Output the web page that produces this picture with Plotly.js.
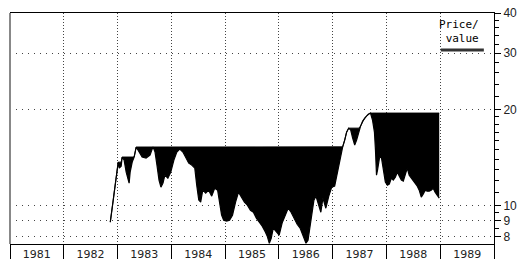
<!DOCTYPE html>
<html>
<head>
<meta charset="utf-8">
<script src="https://cdn.plot.ly/plotly-3.0.1.min.js"></script>
<style>html,body{margin:0;padding:0;background:#fff;}#chart{width:518px;height:269px;}</style>
</head>
<body>
<div id="chart"></div>
<script>
// decimal-year time stamps
const times = [
1982.868,1982.886,1982.905,1982.923,1982.942,1982.960,1982.979,1982.997,1983.016,1983.034,
1983.071,1983.090,1983.126,1983.163,1983.200,1983.219,1983.237,1983.274,1983.311,1983.348,
1983.403,1983.459,1983.533,1983.607,1983.662,1983.699,1983.736,1983.773,1983.810,1983.847,
1983.884,1983.939,1983.994,1984.050,1984.105,1984.161,1984.216,1984.271,1984.327,1984.382,
1984.438,1984.475,1984.512,1984.548,1984.585,1984.641,1984.696,1984.752,1984.807,1984.862,
1984.899,1984.936,1984.973,1985.029,1985.084,1985.139,1985.195,1985.250,1985.306,1985.361,
1985.416,1985.472,1985.527,1985.583,1985.638,1985.693,1985.749,1985.786,1985.823,1985.860,
1985.897,1985.952,1986.007,1986.063,1986.118,1986.174,1986.229,1986.284,1986.340,1986.395,
1986.451,1986.506,1986.543,1986.580,1986.617,1986.654,1986.691,1986.746,1986.783,1986.820,
1986.875,1986.931,1986.986,1987.041,1987.097,1987.152,1987.189,1987.226,1987.263,1987.300,
1987.337,1987.374,1987.411,1987.448,1987.485,1987.522,1987.559,1987.595,1987.632,1987.669,
1987.706,1987.743,1987.780,1987.799,1987.817,1987.836,1987.873,1987.909,1987.946,1987.983,
1988.020,1988.057,1988.094,1988.131,1988.168,1988.205,1988.242,1988.279,1988.316,1988.353,
1988.390,1988.426,1988.463,1988.500,1988.537,1988.574,1988.611,1988.648,1988.685,1988.722,
1988.759,1988.796,1988.833,1988.870,1988.907,1988.944,1988.981
];
// price / value series
const price = [
8.89,9.55,9.90,10.42,11.03,11.60,12.20,13.11,13.69,13.11,
13.30,14.20,13.89,12.74,12.03,11.77,12.74,13.69,14.20,15.26,
14.72,14.20,14.10,14.40,15.28,14.72,13.40,12.03,11.44,11.77,
12.47,12.20,12.74,13.89,14.72,15.04,14.72,14.10,13.59,13.40,
13.11,11.60,10.42,10.27,11.19,10.96,11.19,10.72,11.35,11.19,
10.27,9.35,9.02,8.96,9.02,9.35,10.27,11.03,10.64,10.27,
10.05,9.69,9.55,9.15,8.89,8.64,8.28,8.04,7.64,7.92,
8.52,8.28,8.10,8.83,9.35,9.83,9.55,9.15,8.76,8.52,
8.10,7.64,7.81,8.52,9.35,10.42,10.72,10.05,9.55,10.57,
9.83,10.72,11.44,11.52,12.93,14.10,15.26,16.04,16.99,17.48,
17.24,16.27,15.47,16.04,16.99,17.74,18.39,18.79,19.06,19.34,
19.48,18.52,16.99,14.93,12.47,12.93,14.10,14.20,13.11,11.86,
11.60,11.69,12.20,12.03,12.29,12.74,12.38,12.03,11.94,12.47,
13.11,12.47,12.20,12.03,11.77,11.52,11.19,10.64,10.88,11.19,
11.11,11.11,11.19,11.35,11.03,10.80,10.57
];
const yTickVals = [8, 9, 10, 20, 30, 40];
const yTickText = ['8', '9', '10', '20', '30', '40'];
const yMinorVals = [8.5, 9.5, 11, 12, 13, 14, 15, 16, 17, 18, 19, 22, 24, 26, 28, 32, 34, 36, 38];
const legendText = 'Price/<br>value';

function toDate(t) {
  const y = Math.floor(t);
  const s = Date.UTC(y, 0, 1), e = Date.UTC(y + 1, 0, 1);
  return new Date(s + (t - y) * (e - s)).toISOString().slice(0, 10);
}
const xDates = times.map(toDate);
// running peak (previous high) derived from the price series
const peak = [];
price.forEach((v, i) => peak.push(i === 0 ? v : Math.max(v, peak[i - 1])));

const traces = [
  {x: xDates, y: price, type: 'scatter', mode: 'lines',
   line: {color: '#000', width: 1.2}, showlegend: false, hoverinfo: 'skip'},
  {x: xDates, y: peak, type: 'scatter', mode: 'lines', fill: 'tonexty',
   fillcolor: '#000', line: {color: '#000', width: 1}, showlegend: false, hoverinfo: 'skip'}
];

const layout = {
  width: 518, height: 269,
  margin: {l: 10, r: 24, t: 13, b: 25, pad: 0},
  paper_bgcolor: '#fff', plot_bgcolor: '#fff',
  font: {family: 'DejaVu Sans', size: 12, color: '#000'},
  xaxis: {
    type: 'date', range: ['1981-01-01', '1990-01-01'],
    tick0: '1981-01-01', dtick: 'M12', tickformat: '%Y', ticklabelmode: 'period',
    ticks: 'outside', ticklen: 14, tickcolor: '#000', tickwidth: 1,
    ticklabelstandoff: -14,
    tickfont: {family: 'DejaVu Sans', size: 11, color: '#222'},
    showgrid: true, gridcolor: '#444', gridwidth: 1, griddash: '1px,2px',
    showline: true, linecolor: '#000', linewidth: 1, mirror: true,
    zeroline: false, fixedrange: true
  },
  yaxis: {
    type: 'log', side: 'right',
    range: [Math.log10(7.6), Math.log10(40)],
    tickmode: 'array', tickvals: yTickVals, ticktext: yTickText,
    ticks: 'outside', ticklen: 6, tickcolor: '#000', tickwidth: 1,
    ticklabelstandoff: 0,
    tickfont: {family: 'Liberation Sans', size: 12, color: '#222'},
    minor: {tickmode: 'array', tickvals: yMinorVals, ticks: 'outside', ticklen: 4,
            tickcolor: '#000', tickwidth: 1, showgrid: false},
    showgrid: true, gridcolor: '#444', gridwidth: 1, griddash: '1px,5px',
    showline: true, linecolor: '#000', linewidth: 1,
    zeroline: false, fixedrange: true
  },
  shapes: [
    {type: 'line', xref: 'paper', yref: 'paper', x0: 0, x1: 0, y0: 0, y1: 1,
     line: {color: '#888', width: 2}},
    {type: 'line', xref: 'paper', yref: 'paper', x0: 0.890, x1: 0.979, y0: 0.840, y1: 0.840,
     line: {color: '#333', width: 3}}
  ],
  annotations: [
    {text: legendText, xref: 'paper', yref: 'paper', x: 0.973, y: 0.985,
     xanchor: 'right', yanchor: 'top', align: 'right', showarrow: false,
     font: {family: 'DejaVu Sans Mono', size: 11, color: '#000'}, bgcolor: 'rgba(0,0,0,0)'}
  ]
};

Plotly.newPlot('chart', traces, layout, {staticPlot: true, displayModeBar: false});
</script>
</body>
</html>
